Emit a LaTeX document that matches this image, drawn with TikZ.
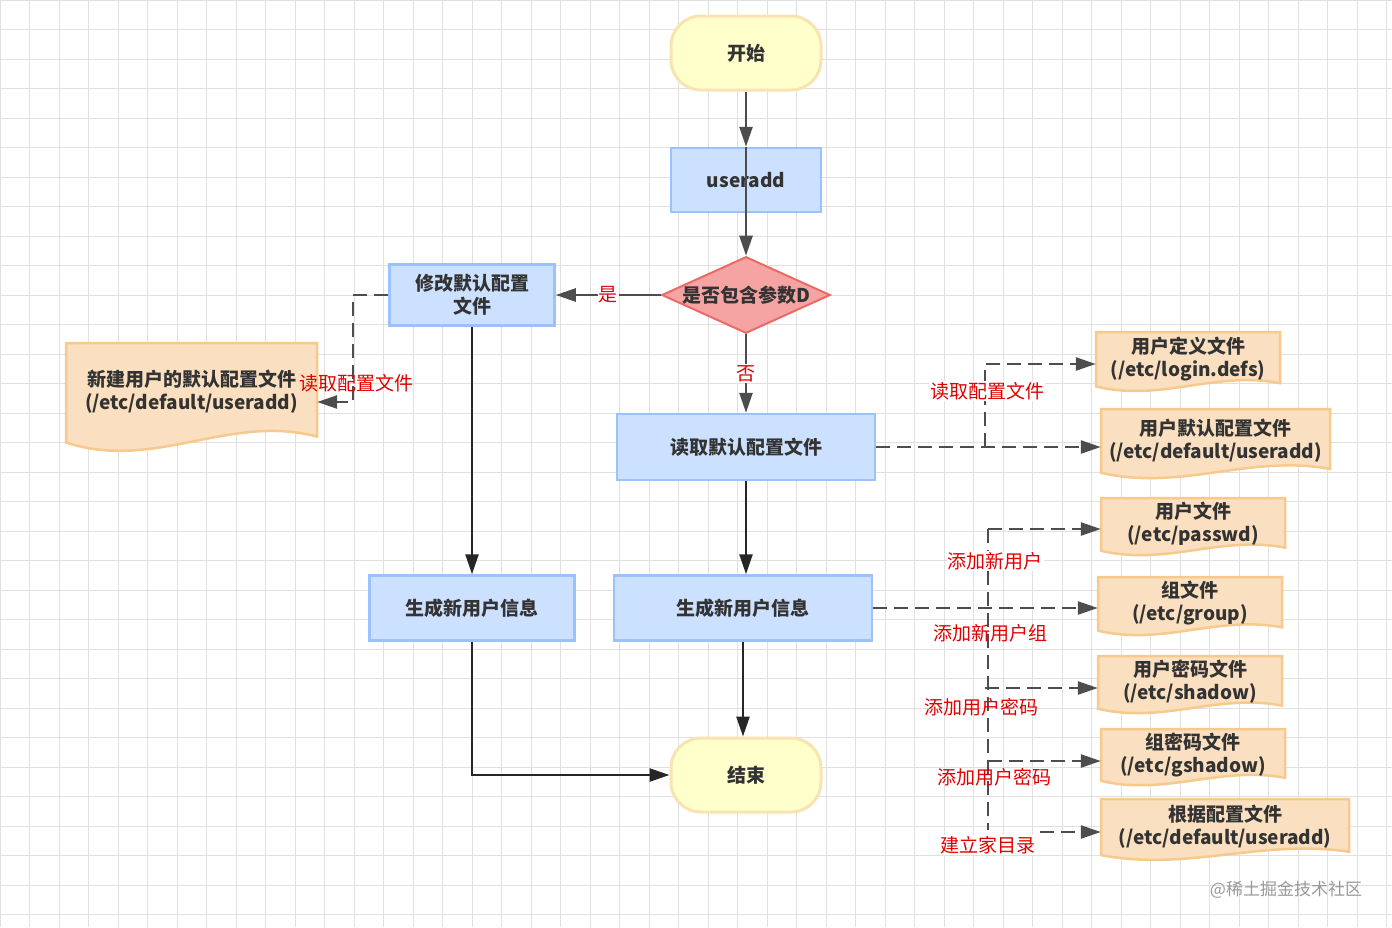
\documentclass[tikz,border=0pt]{standalone}
\usepackage{fontspec}
\setmainfont{Noto Sans CJK SC}
\usetikzlibrary{shapes.geometric,arrows.meta}
\definecolor{bfill}{HTML}{CCE0FF}\definecolor{bline}{HTML}{99C2FF}
\definecolor{dfill}{HTML}{FAE0C0}\definecolor{dline}{HTML}{F7C98D}
\definecolor{yfill}{HTML}{FFFFCC}\definecolor{yline}{HTML}{F9E3B0}
\definecolor{rfill}{HTML}{F5A3A3}\definecolor{rline}{HTML}{EA6B66}
\definecolor{conn}{HTML}{4D4D4D}\definecolor{lab}{HTML}{E00000}
\newcommand\docshape[6]{%
  \fill[dfill,draw=dline,line width=2.5pt] (#2,#3) -- (#2+#4,#3) -- (#2+#4,#3+0.8*#5)
   .. controls (#2+0.65*#4,#3+0.6*#5) and (#2+0.35*#4,#3+1.1*#5) .. (#2,#3+0.85*#5) -- cycle;
  \node[txt,minimum width=#4*1pt,minimum height=#5*1pt,inner sep=0pt] (#1) at (#2+0.5*#4,#3+0.42*#5) {#6};}
\begin{document}
\begin{tikzpicture}[x=1pt,y=-1pt,
  txt/.style={font=\fontsize{19}{23}\selectfont\bfseries,text=black!80,align=center},
  box/.style={txt,draw=bline,fill=bfill,line width=2.5pt,inner sep=0pt},
  term/.style={txt,draw=yline,fill=yfill,line width=3pt,rounded corners=30pt,minimum width=150pt,minimum height=74pt},
  arr/.style={conn,line width=2.5pt,-{Triangle[length=20pt,width=13pt]}},
  darr/.style={arr,dash pattern=on 14pt off 7pt},
  lbl/.style={text=lab,font=\fontsize{19}{23}\selectfont,inner sep=1pt}]
\fill[white] (0,0) rectangle (1392,927);
\useasboundingbox (0,0) rectangle (1392,927);
\foreach \i in {0,...,47}{\draw[black!12,line width=1pt] (\i*29.5,0) -- (\i*29.5,927);}
\foreach \i in {0,...,31}{\draw[black!12,line width=1pt] (0,\i*29.5) -- (1392,\i*29.5);}
\node[term] (start) at (746,53) {开始};
\node[box,minimum width=150pt,minimum height=64pt] (ua) at (746,180) {useradd};
\node[txt,diamond,draw=rline,fill=rfill,line width=2pt,aspect=2.2,minimum width=166pt,minimum height=74pt,inner sep=0pt] (dia) at (746,295) {是否包含参数D};
\node[box,minimum width=165pt,minimum height=61pt] (mod) at (472,295) {修改默认配置\\文件};
\docshape{ndoc}{66}{343}{251}{117}{新建用户的默认配置文件\\(/etc/default/useradd)}
\node[box,minimum width=258pt,minimum height=66pt] (read) at (746,447) {读取默认配置文件};
\node[box,minimum width=205pt,minimum height=65pt] (genl) at (472,608) {生成新用户信息};
\node[box,minimum width=258pt,minimum height=65pt] (genr) at (743,608) {生成新用户信息};
\node[term] (end) at (746,775) {结束};
\docshape{d1}{1096}{332}{184}{64}{用户定义文件\\(/etc/login.defs)}
\docshape{d2}{1101}{409}{229}{75}{用户默认配置文件\\(/etc/default/useradd)}
\docshape{d3}{1101}{498}{184}{62}{用户文件\\(/etc/passwd)}
\docshape{d4}{1098}{577}{184}{63}{组文件\\(/etc/group)}
\docshape{d5}{1098}{656}{184}{62}{用户密码文件\\(/etc/shadow)}
\docshape{d6}{1101}{729}{184}{61}{组密码文件\\(/etc/gshadow)}
\docshape{d7}{1101}{799}{248}{66}{根据配置文件\\(/etc/default/useradd)}
% main flow
\draw[arr] (start) -- (ua);
\draw[arr] (ua.north) -- (dia.north);
\draw[arr] (dia.west) -- node[lbl,fill=white,pos=0.5] {是} (mod.east);
\draw[arr] (dia.south) -- node[lbl,fill=white] {否} (read.north);
\draw[arr,black!85] (mod.south) -- (genl.north);
\draw[arr,black!85] (read.south) -- ([xshift=3pt]genr.north);
\draw[arr,black!85] (genr.south) -- (end.north-|genr.south);
\draw[arr,black!85] (genl.south) |- (end.west);
% left dashed
\coordinate (m1) at (353,295);
\draw[darr] (mod.west) -- (m1) |- (ndoc.east|-0,402);
\node[lbl] at (356,383) {读取配置文件};
% read config
\coordinate (r1) at (985,447);
\draw[darr] (read.east) -- (d2.west|-read.east);
\draw[darr] (r1) |- (d1.west|-0,364);
\node[lbl,fill=white] at (987,391) {读取配置文件};
% generate
\coordinate (g1) at (988,529); \coordinate (g2) at (988,830);
\draw[darr] (genr.east) -- (d4.west|-genr.east);
\draw[conn,line width=2.5pt,dash pattern=on 14pt off 7pt] (g1) -- (g2);
\draw[darr] (g1) -- (d3.west|-g1);
\draw[darr] (985,688) -- (d5.west|-0,688);
\draw[darr] (988,761) -- (d6.west|-0,761);
\draw[darr] (1040,832) -- (d7.west|-0,832);
\node[lbl,fill=white] at (995,561) {添加新用户};
\node[lbl] at (990,633) {添加新用户组};
\node[lbl] at (981,707) {添加用户密码};
\node[lbl] at (994,777) {添加用户密码};
\node[lbl,fill=white] at (988,845) {建立家目录};
\node[text=black!40,font=\fontsize{17}{20}\selectfont] at (1286,890) {@稀土掘金技术社区};
\end{tikzpicture}
\end{document}
